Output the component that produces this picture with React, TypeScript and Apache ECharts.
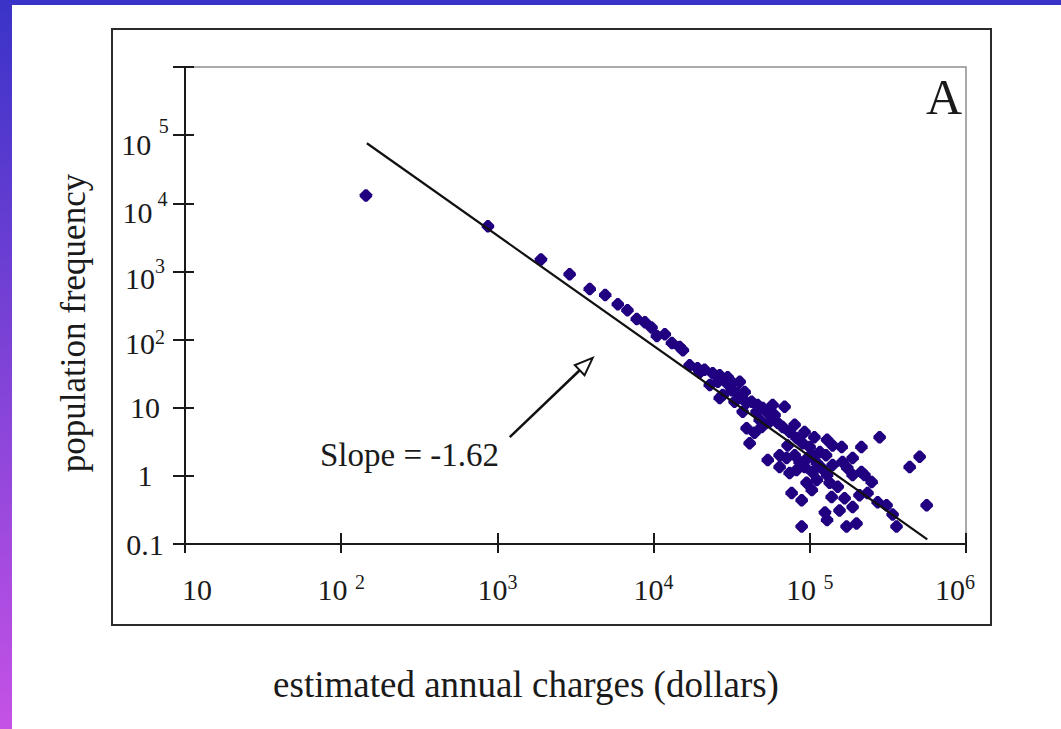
import React, { useEffect, useRef } from "react";
import * as echarts from "echarts";

// Estimated annual charges (dollars) per group
const chargesDollars = [
  144, 870, 1900, 2900, 3900, 4900, 5900, 6800, 7800, 8800, 9700, 10500, 11800, 13100, 14700,
  15400, 17000, 19100, 21200, 23900, 26500, 22900, 25800, 29400, 32100, 35600, 31600, 34500,
  27700, 26500, 39400, 42400, 46400, 50000, 45600, 37200, 69000, 53800, 55300, 62200, 67000,
  74300, 39400, 44300, 49200, 41200, 82300, 90000, 99800, 129000, 140000, 160000, 214000,
  280000, 53800, 64100, 71000, 80000, 86100, 96900, 111000, 64100, 74300, 82300, 92600,
  104000, 119000, 129000, 140000, 162000, 188000, 188000, 224000, 214000, 95400, 111000,
  134000, 151000, 76500, 88700, 138000, 167000, 208000, 234000, 272000, 310000, 188000,
  125000, 129000, 172000, 199000, 88700, 359000, 436000, 505000, 560000,
  19700, 29800, 38300, 36700, 59500, 80000, 92600, 107000, 116000, 127000, 174000, 72100,
  103000, 155000, 249000, 339000, 47800, 33000, 57800, 103000,
];

// Population frequency per group
const populationFrequency = [
  13000, 4600, 1500, 910, 550, 450, 330, 270, 200, 180, 150, 113, 120, 89, 78,
  70, 42, 38, 36, 32, 30, 21.5, 24, 23, 23, 24, 18, 16.5,
  15.4, 13.9, 11.8, 12.2, 11, 9.9, 8.7, 8.7, 10.3, 8.4, 6.2, 6.0, 5.2,
  4.4, 5.0, 4.3, 5.2, 3.0, 3.6, 3.0, 2.65, 3.4, 2.8, 2.65, 2.65,
  3.7, 1.71, 2.0, 1.83, 2.0, 1.6, 1.83, 1.55, 1.35, 1.1, 1.22, 1.35,
  1.14, 1.3, 1.03, 1.44, 1.6, 1.83, 1.03, 1.03, 1.14, 0.79, 0.87,
  0.79, 0.69, 0.56, 0.44, 0.49, 0.47, 0.52, 0.56, 0.41, 0.37, 0.35,
  0.29, 0.225, 0.18, 0.2, 0.18, 0.18, 1.35, 1.9, 0.37,
  33, 28, 17, 13.9, 7.8, 5.6, 4.4, 3.7, 2.24, 2.0, 1.3, 2.8,
  0.62, 0.31, 0.81, 0.27, 6.6, 12.2, 11, 2.0,
];

// Fitted power law (slope -1.62 on log-log axes), its two end points
const fitCharges = [146, 565000];
const fitFrequency = [76000, 0.117];

// Tick labels by decade exponent
const xTickLabels = [
  "{l|10}",
  "{b|10 }{s|2}",
  "{b|10}{s|3}",
  "{b|10}{s|4}",
  "{b|10 }{s|5}",
  "{b|10}{rs|6}",
];
const yTickLabels = [
  "0.1",
  "1",
  "10",
  "{b|10}{s2|2}",
  "{b|10}{s3|3}",
  "{b|10}{s4|4}",
  "{b|10 }{s5|5}",
  "",
];

// Annotation arrow, in data coordinates
const arrowTail = [1200, 3.7];
const arrowTip = [4075, 54];

const slopeText = "Slope = -1.62";
const panelLetter = "A";
const xTitle = "estimated annual charges (dollars)";
const yTitle = "population frequency";

const SERIF = "'Liberation Serif', 'Times New Roman', serif";
const INK = "#1a1a1a";
const DOT = "#200080";

const base = { fontFamily: SERIF, fontSize: 30, lineHeight: 30, color: INK, verticalAlign: "bottom" };
// superscript token: lineHeight sets the label's line box, bottom padding lifts the exponent
const sup = (lineHeight: number, lift: number, right = 0, left = 0) => ({
  fontFamily: SERIF,
  fontSize: 20,
  lineHeight,
  color: INK,
  verticalAlign: "bottom",
  padding: [0, right, lift, left],
});

export default function App() {
  const ref = useRef<HTMLDivElement>(null);

  useEffect(() => {
    const el = ref.current;
    if (!el) return;
    const chart = echarts.init(el, null, { renderer: "svg" });

    const points = chargesDollars.map((x, i) => [x, populationFrequency[i]]);
    const fit = fitCharges.map((x, i) => [x, fitFrequency[i]]);

    const logAxisCommon = {
      type: "log",
      logBase: 10,
      splitLine: { show: false },
      minorTick: { show: false },
    };

    chart.setOption({
      animation: false,
      backgroundColor: "#ffffff",
      grid: {
        left: 185,
        right: 95,
        top: 67,
        bottom: 185,
        show: true,
        borderColor: "#8f8f8f",
        borderWidth: 1.5,
      },
      xAxis: [
        {
          ...logAxisCommon,
          position: "bottom",
          min: 10,
          max: 1e6,
          splitNumber: 5,
          axisLine: { show: true, lineStyle: { color: INK, width: 2 } },
          axisTick: { show: true, inside: false, length: 9, lineStyle: { color: INK, width: 2 } },
          axisLabel: {
            margin: 30,
            fontFamily: SERIF,
            fontSize: 30,
            color: INK,
            formatter: (v: number) => xTickLabels[Math.round(Math.log10(v)) - 1] ?? "",
            rich: {
              b: base,
              l: { ...base, padding: [0, 0, 0, 24] },
              s: sup(20, 12),
              rs: sup(20, 12, 22),
            },
          },
        },
        {
          ...logAxisCommon,
          position: "bottom",
          min: 10,
          max: 1e6,
          splitNumber: 5,
          axisLine: { show: false },
          axisTick: { show: true, inside: true, length: 11, lineStyle: { color: INK, width: 2 } },
          axisLabel: { show: false },
        },
      ],
      yAxis: [
        {
          ...logAxisCommon,
          position: "left",
          min: 0.1,
          max: 1e6,
          splitNumber: 7,
          axisLine: { show: true, lineStyle: { color: INK, width: 2 } },
          axisTick: { show: true, inside: false, length: 12, lineStyle: { color: INK, width: 2 } },
          axisLabel: {
            margin: 40,
            align: "center",
            fontFamily: SERIF,
            fontSize: 30,
            color: INK,
            formatter: (v: number) => yTickLabels[Math.round(Math.log10(v)) + 1] ?? "",
            rich: {
              b: base,
              s2: sup(38, 12),
              s3: sup(44, 17),
              s4: sup(48, 18, 0, 5),
              s5: sup(48, 23.5),
            },
          },
        },
        {
          ...logAxisCommon,
          position: "left",
          min: 0.1,
          max: 1e6,
          splitNumber: 7,
          axisLine: { show: false },
          axisTick: { show: true, inside: true, length: 9, lineStyle: { color: INK, width: 2 } },
          axisLabel: { show: false },
        },
      ],
      series: [
        {
          type: "scatter",
          xAxisIndex: 0,
          yAxisIndex: 0,
          data: points,
          symbol: "path://M4,0H6L10,4V6L6,10H4L0,6V4Z",
          symbolSize: 12.5,
          itemStyle: { color: DOT, opacity: 1 },
          z: 2,
        },
        {
          type: "line",
          xAxisIndex: 0,
          yAxisIndex: 0,
          data: fit,
          symbol: "none",
          lineStyle: { color: "#111111", width: 2.2 },
          z: 3,
        },
      ],
    });

    // Arrow from the slope label to the fitted line
    const tail = chart.convertToPixel({ seriesIndex: 0 }, arrowTail) as number[];
    const tip = chart.convertToPixel({ seriesIndex: 0 }, arrowTip) as number[];
    const dx = tip[0] - tail[0];
    const dy = tip[1] - tail[1];
    const len = Math.hypot(dx, dy);
    const ux = dx / len;
    const uy = dy / len;
    const headLen = 18;
    const halfW = 7;
    const bx = tip[0] - ux * headLen;
    const by = tip[1] - uy * headLen;
    const nx = -uy;
    const ny = ux;

    chart.setOption({
      graphic: [
        {
          type: "rect",
          shape: { x: 0, y: 0, width: 1061, height: 5 },
          style: { fill: "#3a33c8" },
          silent: true,
        },
        {
          type: "rect",
          shape: { x: 0, y: 0, width: 12, height: 729 },
          style: {
            fill: {
              type: "linear",
              x: 0,
              y: 0,
              x2: 0,
              y2: 1,
              colorStops: [
                { offset: 0, color: "#3a33c8" },
                { offset: 1, color: "#c552e6" },
              ],
            },
          },
          silent: true,
        },
        {
          type: "rect",
          shape: { x: 112, y: 29, width: 879, height: 596 },
          style: { fill: "none", stroke: "#2b2b2b", lineWidth: 2 },
          silent: true,
        },
        {
          type: "text",
          x: 944,
          y: 97,
          style: {
            text: panelLetter,
            font: `50px ${SERIF}`,
            fill: INK,
            align: "center",
            verticalAlign: "middle",
          },
        },
        {
          type: "text",
          x: 320,
          y: 455,
          style: {
            text: slopeText,
            font: `33px ${SERIF}`,
            fill: INK,
            align: "left",
            verticalAlign: "middle",
          },
        },
        {
          type: "line",
          shape: { x1: tail[0], y1: tail[1], x2: bx, y2: by },
          style: { stroke: "#111111", lineWidth: 2.5 },
        },
        {
          type: "polygon",
          shape: {
            points: [
              [tip[0], tip[1]],
              [bx + nx * halfW, by + ny * halfW],
              [bx - nx * halfW, by - ny * halfW],
            ],
          },
          style: { fill: "#ffffff", stroke: "#111111", lineWidth: 2 },
        },
        {
          type: "text",
          x: 526,
          y: 684,
          style: {
            text: xTitle,
            font: `37px ${SERIF}`,
            fill: INK,
            align: "center",
            verticalAlign: "middle",
          },
        },
        {
          type: "text",
          x: 73,
          y: 323,
          rotation: Math.PI / 2,
          style: {
            text: yTitle,
            font: `35px ${SERIF}`,
            fill: INK,
            align: "center",
            verticalAlign: "middle",
          },
        },
      ],
    });

    return () => {
      chart.dispose();
    };
  }, []);

  return (
    <div
      ref={ref}
      style={{ position: "fixed", left: 0, top: 0, width: 1061, height: 729, background: "#ffffff" }}
    />
  );
}
